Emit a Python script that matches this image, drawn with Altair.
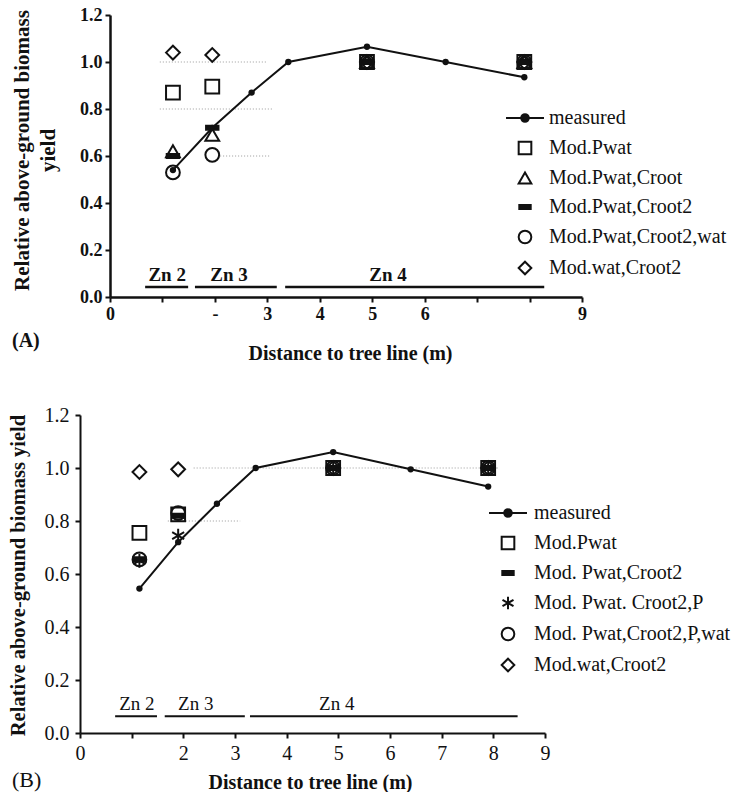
import altair as alt
import pandas as pd

SERIF = "Liberation Serif"
INK = "#111111"

# ---------------- Panel A data ----------------
a_meas_x = [1.2, 1.95, 2.7, 3.4, 4.9, 6.4, 7.9]
a_meas_y = [0.54, 0.72, 0.87, 1.0, 1.065, 1.0, 0.935]
a_mod_x = [1.2, 1.95, 4.9, 7.9]
a_names = ["Mod.Pwat", "Mod.Pwat,Croot", "Mod.Pwat,Croot2", "Mod.Pwat,Croot2,wat", "Mod.wat,Croot2"]
a_pwat = [0.87, 0.895, 1.0, 1.0]
a_pwat_croot = [0.62, 0.69, 1.0, 1.0]
a_pwat_croot2 = [0.60, 0.72, 1.0, 1.0]
a_pwat_croot2_wat = [0.53, 0.605, 1.0, 1.0]
a_wat_croot2 = [1.04, 1.03, 1.0, 1.0]
a_zone_names = ["Zn 2", "Zn 3", "Zn 4"]
a_zone_start = [0.67, 1.62, 3.34]
a_zone_end = [1.49, 3.18, 8.28]
a_zone_label_x = [1.09, 2.27, 5.3]
a_zone_y = [0.043, 0.043, 0.043]
a_grid_y = [1.0, 0.8, 0.6]
a_grid_start = [0.95, 0.95, 2.1]
a_grid_end = [3.0, 3.1, 3.05]

# ---------------- Panel B data ----------------
b_meas_x = [1.15, 1.9, 2.65, 3.4, 4.9, 6.4, 7.9]
b_meas_y = [0.545, 0.72, 0.865, 1.0, 1.06, 0.995, 0.93]
b_mod_x = [1.15, 1.9, 4.9, 7.9]
b_names = ["Mod.Pwat", "Mod. Pwat,Croot2", "Mod. Pwat. Croot2,P", "Mod. Pwat,Croot2,P,wat", "Mod.wat,Croot2"]
b_pwat = [0.755, 0.825, 1.0, 1.0]
b_pwat_croot2 = [0.655, 0.82, 1.0, 1.0]
b_pwat_croot2_p = [0.65, 0.745, 1.0, 1.0]
b_pwat_croot2_p_wat = [0.655, 0.83, 1.0, 1.0]
b_wat_croot2 = [0.985, 0.995, 1.0, 1.0]
b_zone_names = ["Zn 2", "Zn 3", "Zn 4"]
b_zone_start = [0.68, 1.64, 3.29]
b_zone_end = [1.49, 3.19, 8.47]
b_zone_label_x = [1.1, 2.24, 4.97]
b_zone_y = [0.063, 0.063, 0.063]
b_grid_y = [1.0, 0.8]
b_grid_start = [2.2, 1.7]
b_grid_end = [8.1, 3.1]

y_ticks = [0.0, 0.2, 0.4, 0.6, 0.8, 1.0, 1.2]
x_ticks = [0, 1, 2, 3, 4, 5, 6, 7, 8, 9]

# marker shapes
SQUARE = "square"
TRI = "triangle-up"
CIRC = "circle"
DIAM = "diamond"
DASH = "M-0.9,-0.3H0.9V0.3H-0.9Z"
STAR = "M0,-1V1M-0.87,-0.5L0.87,0.5M-0.87,0.5L0.87,-0.5"
MEAS = "M-3,0H3M-0.6,0A0.6,0.6,0,1,0,0.6,0A0.6,0.6,0,1,0,-0.6,0Z"


def panel(meas_x, meas_y, mod_x, names, vals, shapes, fills,
          zn, zs, ze, zlx, zy, gy, gs, ge, p):
    meas_df = pd.DataFrame({"x": meas_x, "y": meas_y})
    rows = []
    for name, v in zip(names, vals):
        for xx, yy in zip(mod_x, v):
            rows.append({"x": xx, "y": yy, "series": name})
    mod_df = pd.DataFrame(rows)
    zone_df = pd.DataFrame({"name": zn, "start": zs, "end": ze, "lx": zlx, "y": zy})
    grid_df = pd.DataFrame({"y": gy, "start": gs, "end": ge})
    tag_df = pd.DataFrame({"t": [p["tag"]]})

    xscale = alt.Scale(domain=[0, 9], nice=False, zero=False, range=[p["x0"], p["w"]])
    yscale = alt.Scale(domain=[0, 1.2], nice=False)
    xaxis = alt.Axis(
        title="Distance to tree line (m)", values=x_ticks, labelExpr=p["xlabels"],
        labelFont=SERIF, labelFontSize=p["tick_fs"], labelFontWeight=p["tick_fw"],
        labelColor=INK, labelPadding=p["xlabpad"], labelOverlap=False, labelFlush=False,
        tickSize=5, tickWidth=2, tickColor=INK, domainColor=INK, domainWidth=p["dw"],
        grid=False, titleFont=SERIF, titleFontSize=20, titleFontWeight="bold",
        titleColor=INK, titleX=p["xtx"], titleY=p["xty"], titleBaseline="middle",
        titleAlign="center")
    yaxis = alt.Axis(
        title=p["ytitle"], values=y_ticks, format=".1f", offset=-p["x0"],
        labelFont=SERIF, labelFontSize=p["tick_fs"], labelFontWeight=p["tick_fw"],
        labelColor=INK, labelPadding=p["ylabpad"], labelOverlap=False, labelFlush=False,
        tickSize=5, tickWidth=2, tickColor=INK, domainColor=INK, domainWidth=p["dw"],
        grid=False, titleFont=SERIF, titleFontSize=p["ytfs"], titleFontWeight="bold",
        titleColor=INK, titleX=p["ytx"], titleY=p["yty"], titleBaseline="bottom",
        titleAlign="center", titleAngle=270, titleLineHeight=26)

    X = lambda f: alt.X(f, scale=xscale, axis=xaxis)
    Y = lambda f: alt.Y(f, scale=yscale, axis=yaxis)

    grid = alt.Chart(grid_df).mark_rule(color="#9a9a9a", strokeWidth=1, strokeDash=[1, 2]).encode(
        x=X("start:Q"), x2="end:Q", y=Y("y:Q"))
    zones = alt.Chart(zone_df).mark_rule(color=INK, strokeWidth=p["zw"]).encode(
        x=X("start:Q"), x2="end:Q", y=Y("y:Q"))
    zone_txt = alt.Chart(zone_df).mark_text(
        font=SERIF, fontSize=19, fontWeight=p["zfw"], color=INK, baseline="bottom", dy=-2
    ).encode(x=X("lx:Q"), y=Y("y:Q"), text="name:N")
    line = alt.Chart(meas_df).mark_line(color=INK, strokeWidth=2).encode(x=X("x:Q"), y=Y("y:Q"))
    dots = alt.Chart(meas_df).mark_point(filled=True, shape="circle", size=40, color=INK, opacity=1).encode(
        x=X("x:Q"), y=Y("y:Q"))

    dom = ["measured"] + names
    leg = alt.Legend(
        title=None, orient="none", legendX=p["lx"], legendY=p["ly"], padding=0,
        labelFont=SERIF, labelFontSize=20, labelColor=INK, labelOffset=p["loff"],
        labelLimit=400, symbolSize=160, symbolStrokeWidth=2, symbolStrokeColor=INK,
        symbolOpacity=1, rowPadding=9)
    mods = alt.Chart(mod_df).mark_point(filled=False, size=190, strokeWidth=2, opacity=1).encode(
        x=X("x:Q"), y=Y("y:Q"),
        stroke=alt.Stroke("series:N", scale=alt.Scale(domain=dom, range=[INK] * len(dom)), legend=leg),
        shape=alt.Shape("series:N", scale=alt.Scale(domain=dom, range=[MEAS] + shapes), legend=leg),
        fill=alt.Fill("series:N", scale=alt.Scale(domain=dom, range=fills), legend=leg),
    )
    tag = alt.Chart(tag_df).mark_text(
        font=SERIF, fontSize=p["tag_fs"], fontWeight=p["tag_fw"], color=INK, align="left", baseline="middle"
    ).encode(x=alt.value(p["tagx"]), y=alt.value(p["tagy"]), text="t:N")

    return alt.layer(grid, zones, zone_txt, line, dots, mods, tag).properties(
        width=p["w"], height=p["h"])


pa = dict(tag="(A)", xlabels="indexof([0,3,4,5,6,9], datum.value) >= 0 ? format(datum.value,'d') : (datum.value == 2 ? '-' : '')",
          tick_fs=18, tick_fw="bold", xlabpad=3, ylabpad=3, dw=2.5, xtx=270, xty=56,
          ytitle=["Relative above-ground biomass", "yield"], ytfs=21, ytx=-78, yty=135,
          zw=2.5, zfw="bold", lx=435, ly=93, loff=14, tag_fs=20, tag_fw="bold", tagx=-68, tagy=326,
          x0=30, w=502, h=282)
pb = dict(tag="(B)", xlabels="datum.value == 1 ? '' : format(datum.value,'d')",
          tick_fs=20, tick_fw="normal", xlabpad=5, ylabpad=6, dw=2, xtx=230, xty=49,
          ytitle="Relative above-ground biomass yield", ytfs=20.5, ytx=-52, yty=160,
          zw=2, zfw="normal", lx=418, ly=88, loff=16, tag_fs=22, tag_fw="normal", tagx=-68, tagy=365,
          x0=0, w=465, h=318)

chart_a = panel(a_meas_x, a_meas_y, a_mod_x, a_names,
                [a_pwat, a_pwat_croot, a_pwat_croot2, a_pwat_croot2_wat, a_wat_croot2],
                [SQUARE, TRI, DASH, CIRC, DIAM],
                [INK, "transparent", "transparent", INK, "transparent", "transparent"],
                a_zone_names, a_zone_start, a_zone_end, a_zone_label_x, a_zone_y,
                a_grid_y, a_grid_start, a_grid_end, pa)
chart_b = panel(b_meas_x, b_meas_y, b_mod_x, b_names,
                [b_pwat, b_pwat_croot2, b_pwat_croot2_p, b_pwat_croot2_p_wat, b_wat_croot2],
                [SQUARE, DASH, STAR, CIRC, DIAM],
                [INK, "transparent", INK, "transparent", "transparent", "transparent"],
                b_zone_names, b_zone_start, b_zone_end, b_zone_label_x, b_zone_y,
                b_grid_y, b_grid_start, b_grid_end, pb)

chart = alt.concat(chart_a, chart_b, columns=1, spacing=42).properties(
    padding={"left": 7, "top": 6, "right": 0, "bottom": 0}
).configure_view(stroke=None).resolve_scale(shape="independent", fill="independent", stroke="independent")

chart.save("out.html", embed_options={"renderer": "svg", "actions": False})
